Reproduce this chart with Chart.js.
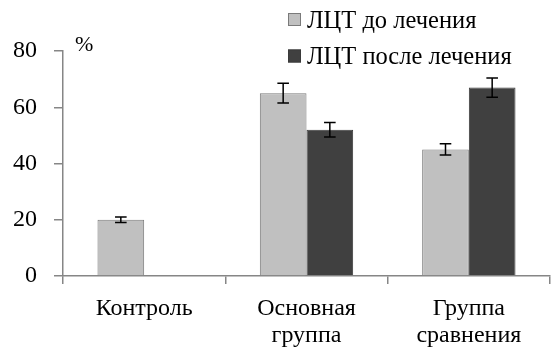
<!DOCTYPE html>
<html>
<head>
<meta charset="utf-8">
<script src="https://cdn.jsdelivr.net/npm/chart.js@4.4.1/dist/chart.umd.min.js"></script>
<style>
  html, body { margin: 0; padding: 0; background: #ffffff; }
  #wrap { width: 553px; height: 348px; }
</style>
</head>
<body>
<div id="wrap"><canvas id="chart" width="553" height="348"></canvas></div>
<script>
// Categories and series
const categories = [["Контроль"], ["Основная", "группа"], ["Группа", "сравнения"]];
const seriesNames = ["ЛЦТ до лечения", "ЛЦТ после лечения"];
const beforeValues = [20, 65, 45];
const afterValues = [null, 52, 67];
const beforeErrors = [1, 3.5, 2];
const afterErrors = [null, 2.6, 3.4];
const yTicks = [0, 20, 40, 60, 80];
const unitLabel = "%";

const FONT = "'Liberation Serif', 'Times New Roman', serif";
const AXIS_COLOR = "#868686";

// Draws the ± error whiskers on top of every bar
const errorBars = {
  id: "errorBars",
  afterDatasetsDraw(chart) {
    const ctx = chart.ctx;
    const yScale = chart.scales.y;
    ctx.save();
    ctx.strokeStyle = "#000000";
    ctx.lineWidth = 1.5;
    chart.data.datasets.forEach((ds, di) => {
      const meta = chart.getDatasetMeta(di);
      meta.data.forEach((bar, i) => {
        const v = ds.data[i];
        const e = ds.errors[i];
        if (v == null || e == null) return;
        const x = bar.x;
        const yTop = yScale.getPixelForValue(v + e);
        const yBot = yScale.getPixelForValue(v - e);
        const cap = 5.8;
        ctx.beginPath();
        ctx.moveTo(x, yTop); ctx.lineTo(x, yBot);
        ctx.moveTo(x - cap, yTop); ctx.lineTo(x + cap, yTop);
        ctx.moveTo(x - cap, yBot); ctx.lineTo(x + cap, yBot);
        ctx.stroke();
      });
    });
    ctx.restore();
  }
};

// Unit label and stacked legend in the upper part of the canvas
const decorations = {
  id: "decorations",
  afterDraw(chart) {
    const ctx = chart.ctx;
    const area = chart.chartArea;
    ctx.save();
    ctx.fillStyle = "#000000";
    ctx.textBaseline = "middle";
    ctx.textAlign = "left";
    ctx.font = "22px " + FONT;
    ctx.fillText(unitLabel, area.left + 12, area.top - 6);

    ctx.font = "24.5px " + FONT;
    const lx = 288, rows = [19.5, 56];
    chart.data.datasets.forEach((ds, i) => {
      const y = rows[i];
      ctx.fillStyle = ds.backgroundColor;
      ctx.fillRect(lx, y - 6.5, 13, 13);
      ctx.strokeStyle = ds.borderColor;
      ctx.lineWidth = 1;
      ctx.strokeRect(lx + 0.5, y - 6, 12, 12);
      ctx.fillStyle = "#000000";
      ctx.fillText(ds.label, lx + 19, y + 2);
    });
    ctx.restore();
  }
};

new Chart(document.getElementById("chart"), {
  type: "bar",
  data: {
    labels: categories,
    datasets: [
      { label: seriesNames[0], data: beforeValues, errors: beforeErrors,
        backgroundColor: "#c0c0c0", borderColor: "#7a7a7a", borderWidth: 1 },
      { label: seriesNames[1], data: afterValues, errors: afterErrors,
        backgroundColor: "#404040", borderColor: "#3a3a3a", borderWidth: 1 }
    ]
  },
  options: {
    responsive: false,
    animation: false,
    devicePixelRatio: 1,
    layout: { padding: { top: 51, right: 3, left: 0, bottom: 0 } },
    datasets: { bar: { barPercentage: 1.0, categoryPercentage: 0.575 } },
    plugins: { legend: { display: false }, tooltip: { enabled: false } },
    scales: {
      x: {
        offset: true,
        grid: { offset: true, drawOnChartArea: false, color: AXIS_COLOR, tickLength: 8, lineWidth: 1.5 },
        border: { color: AXIS_COLOR, width: 1.5 },
        ticks: { color: "#000000", font: { family: FONT, size: 24, lineHeight: 1.14 }, padding: 11, maxRotation: 0 },
        afterFit(scale) { scale.height = 72; }
      },
      y: {
        min: 0,
        max: 80,
        afterBuildTicks(scale) { scale.ticks = yTicks.map(v => ({ value: v })); },
        grid: { drawOnChartArea: false, color: AXIS_COLOR, tickLength: 9, lineWidth: 1.5 },
        border: { color: AXIS_COLOR, width: 1.5 },
        ticks: { color: "#000000", font: { family: FONT, size: 24 }, padding: 17 },
        afterFit(scale) { scale.width = 63; }
      }
    }
  },
  plugins: [errorBars, decorations]
});
</script>
</body>
</html>
